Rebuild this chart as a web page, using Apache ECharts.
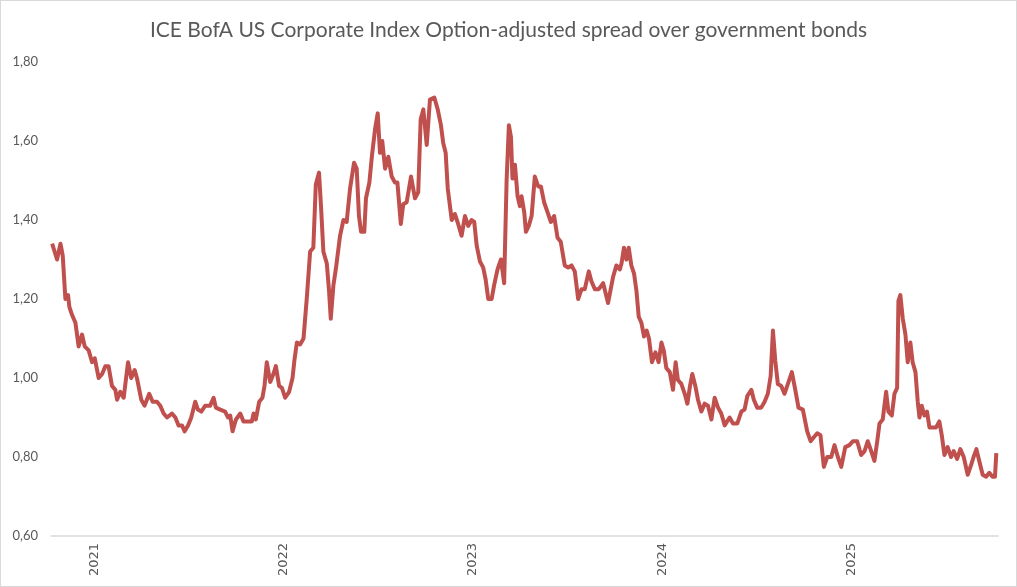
<!DOCTYPE html>
<html>
<head>
<meta charset="utf-8">
<script src="https://cdn.jsdelivr.net/npm/echarts@6/dist/echarts.min.js"></script>
<style>
  html, body { margin: 0; padding: 0; background: #fff; }
  #chart { width: 1017px; height: 587px; box-sizing: border-box; border: 1px solid #d9d9d9; }
</style>
</head>
<body>
<div id="chart"></div>
<script>
// dates as decimal years
const dates = [
  2020.777, 2020.803, 2020.821, 2020.833, 2020.847, 2020.861, 2020.868, 2020.882, 2020.900, 2020.917,
  2020.935, 2020.949, 2020.970, 2020.988, 2021.002, 2021.023, 2021.041, 2021.058, 2021.075, 2021.093,
  2021.111, 2021.120, 2021.137, 2021.155, 2021.178, 2021.195, 2021.213, 2021.225, 2021.248, 2021.265,
  2021.290, 2021.308, 2021.331, 2021.348, 2021.366, 2021.384, 2021.410, 2021.428, 2021.445, 2021.463,
  2021.477, 2021.495, 2021.512, 2021.533, 2021.547, 2021.565, 2021.586, 2021.612, 2021.630, 2021.642,
  2021.665, 2021.691, 2021.706, 2021.718, 2021.730, 2021.748, 2021.771, 2021.788, 2021.832, 2021.841,
  2021.853, 2021.871, 2021.888, 2021.899, 2021.911, 2021.929, 2021.946, 2021.959, 2021.976, 2021.991,
  2022.008, 2022.029, 2022.047, 2022.057, 2022.070, 2022.087, 2022.105, 2022.122, 2022.140, 2022.157,
  2022.170, 2022.187, 2022.198, 2022.210, 2022.228, 2022.240, 2022.249, 2022.263, 2022.277, 2022.298,
  2022.316, 2022.333, 2022.351, 2022.372, 2022.386, 2022.398, 2022.409, 2022.426, 2022.435, 2022.453,
  2022.466, 2022.483, 2022.497, 2022.509, 2022.521, 2022.536, 2022.553, 2022.571, 2022.588, 2022.601,
  2022.619, 2022.632, 2022.650, 2022.673, 2022.694, 2022.711, 2022.724, 2022.738, 2022.756, 2022.761,
  2022.773, 2022.796, 2022.814, 2022.831, 2022.843, 2022.856, 2022.867, 2022.888, 2022.905, 2022.922,
  2022.940, 2022.958, 2022.975, 2022.993, 2023.007, 2023.020, 2023.037, 2023.054, 2023.067, 2023.081,
  2023.099, 2023.112, 2023.130, 2023.148, 2023.165, 2023.178, 2023.190, 2023.201, 2023.209, 2023.222,
  2023.236, 2023.248, 2023.257, 2023.271, 2023.280, 2023.295, 2023.310, 2023.327, 2023.345, 2023.359,
  2023.376, 2023.394, 2023.412, 2023.429, 2023.447, 2023.464, 2023.485, 2023.503, 2023.521, 2023.538,
  2023.556, 2023.574, 2023.591, 2023.612, 2023.626, 2023.644, 2023.665, 2023.688, 2023.714, 2023.740,
  2023.758, 2023.776, 2023.785, 2023.798, 2023.811, 2023.823, 2023.837, 2023.851, 2023.864, 2023.876,
  2023.890, 2023.904, 2023.918, 2023.930, 2023.946, 2023.964, 2023.981, 2023.996, 2024.008, 2024.022,
  2024.040, 2024.057, 2024.071, 2024.083, 2024.101, 2024.119, 2024.133, 2024.147, 2024.159, 2024.175,
  2024.189, 2024.207, 2024.224, 2024.242, 2024.260, 2024.277, 2024.295, 2024.312, 2024.330, 2024.356,
  2024.374, 2024.397, 2024.418, 2024.435, 2024.450, 2024.471, 2024.484, 2024.502, 2024.523, 2024.541,
  2024.558, 2024.573, 2024.585, 2024.597, 2024.611, 2024.629, 2024.646, 2024.664, 2024.685, 2024.703,
  2024.720, 2024.743, 2024.752, 2024.766, 2024.784, 2024.801, 2024.819, 2024.836, 2024.854, 2024.872,
  2024.893, 2024.910, 2024.928, 2024.946, 2024.967, 2024.989, 2025.007, 2025.030, 2025.051, 2025.069,
  2025.086, 2025.104, 2025.121, 2025.136, 2025.148, 2025.165, 2025.183, 2025.195, 2025.213, 2025.227,
  2025.241, 2025.248, 2025.258, 2025.271, 2025.285, 2025.297, 2025.311, 2025.323, 2025.338, 2025.350,
  2025.359, 2025.371, 2025.385, 2025.399, 2025.412, 2025.447, 2025.464, 2025.477, 2025.491, 2025.508,
  2025.526, 2025.540, 2025.558, 2025.575, 2025.593, 2025.614, 2025.632, 2025.645, 2025.660, 2025.675,
  2025.693, 2025.711, 2025.728, 2025.745, 2025.758, 2025.765
];

// option-adjusted spread, in percentage points
const spread = [
  1.34, 1.30, 1.34, 1.31, 1.20, 1.21, 1.18, 1.16, 1.14, 1.08,
  1.11, 1.08, 1.07, 1.04, 1.05, 1.00, 1.01, 1.03, 1.03, 0.98,
  0.97, 0.945, 0.965, 0.95, 1.04, 1.00, 1.02, 1.00, 0.945, 0.93,
  0.96, 0.94, 0.94, 0.93, 0.91, 0.90, 0.91, 0.90, 0.88, 0.88,
  0.865, 0.88, 0.90, 0.94, 0.92, 0.915, 0.93, 0.93, 0.95, 0.925,
  0.92, 0.915, 0.90, 0.905, 0.865, 0.895, 0.91, 0.89, 0.89, 0.91,
  0.895, 0.94, 0.95, 0.98, 1.04, 0.99, 1.01, 1.03, 0.98, 0.975,
  0.95, 0.965, 1.00, 1.045, 1.09, 1.085, 1.10, 1.20, 1.32, 1.33,
  1.49, 1.52, 1.43, 1.32, 1.29, 1.22, 1.15, 1.235, 1.28, 1.36,
  1.40, 1.395, 1.48, 1.545, 1.53, 1.41, 1.37, 1.37, 1.455, 1.495,
  1.56, 1.63, 1.67, 1.57, 1.60, 1.53, 1.56, 1.51, 1.495, 1.495,
  1.39, 1.44, 1.445, 1.51, 1.455, 1.47, 1.655, 1.68, 1.59, 1.585,
  1.705, 1.71, 1.68, 1.64, 1.595, 1.57, 1.48, 1.40, 1.415, 1.39,
  1.36, 1.41, 1.385, 1.40, 1.395, 1.335, 1.295, 1.28, 1.25, 1.20,
  1.20, 1.235, 1.275, 1.30, 1.24, 1.50, 1.64, 1.61, 1.505, 1.54,
  1.46, 1.435, 1.46, 1.42, 1.37, 1.385, 1.41, 1.51, 1.485, 1.485,
  1.445, 1.42, 1.395, 1.41, 1.355, 1.345, 1.285, 1.28, 1.285, 1.27,
  1.20, 1.225, 1.225, 1.27, 1.245, 1.225, 1.225, 1.24, 1.19, 1.255,
  1.285, 1.275, 1.29, 1.33, 1.30, 1.33, 1.285, 1.265, 1.22, 1.155,
  1.14, 1.105, 1.12, 1.10, 1.04, 1.065, 1.04, 1.09, 1.07, 1.025,
  1.015, 0.97, 1.04, 0.995, 0.985, 0.96, 0.935, 0.98, 1.01, 0.98,
  0.945, 0.915, 0.935, 0.93, 0.895, 0.95, 0.925, 0.91, 0.88, 0.90,
  0.885, 0.885, 0.915, 0.92, 0.955, 0.97, 0.945, 0.925, 0.925, 0.94,
  0.96, 1.005, 1.12, 1.045, 0.985, 0.98, 0.96, 0.985, 1.015, 0.97,
  0.925, 0.92, 0.915, 0.865, 0.84, 0.85, 0.86, 0.855, 0.775, 0.80,
  0.80, 0.83, 0.80, 0.775, 0.825, 0.83, 0.84, 0.84, 0.805, 0.815,
  0.84, 0.815, 0.79, 0.84, 0.885, 0.895, 0.965, 0.915, 0.905, 0.96,
  0.975, 1.195, 1.21, 1.15, 1.11, 1.04, 1.09, 1.04, 1.015, 0.94,
  0.90, 0.93, 0.905, 0.915, 0.875, 0.875, 0.89, 0.855, 0.805, 0.825,
  0.80, 0.815, 0.795, 0.82, 0.80, 0.755, 0.78, 0.80, 0.82, 0.79,
  0.755, 0.75, 0.76, 0.75, 0.75, 0.81
];

const yearTicks = [2021, 2022, 2023, 2024, 2025];

const chart = echarts.init(document.getElementById('chart'));

const seriesData = dates.map((d, i) => [d, spread[i]]);

const option = {
  animation: false,
  title: {
    text: 'ICE BofA US Corporate Index Option-adjusted spread over government bonds',
    left: 'center',
    top: 14,
    textStyle: {
      fontFamily: 'Lato',
      fontSize: 21,
      fontWeight: 'normal',
      color: '#595959'
    }
  },
  grid: {
    left: 50,
    right: 18,
    top: 61,
    bottom: 50
  },
  xAxis: {
    type: 'value',
    min: 2020.771,
    max: 2025.774,
    axisLine: {
      lineStyle: { color: '#d9d9d9', width: 1.5 }
    },
    axisTick: { show: false },
    splitLine: { show: false },
    axisLabel: {
      customValues: yearTicks,
      rotate: 90,
      margin: 7,
      color: '#595959',
      fontFamily: 'DejaVu Sans',
      fontSize: 13,
      formatter: (v) => String(Math.round(v))
    }
  },
  yAxis: {
    type: 'value',
    min: 0.6,
    max: 1.8,
    interval: 0.2,
    axisLine: { show: false },
    axisTick: { show: false },
    splitLine: { show: false },
    axisLabel: {
      color: '#595959',
      fontFamily: 'Lato',
      fontSize: 13,
      margin: 13,
      formatter: (v) => v.toFixed(2).replace('.', ',')
    }
  },
  series: [{
    type: 'line',
    data: seriesData,
    showSymbol: false,
    smooth: false,
    lineStyle: {
      color: '#C0504D',
      width: 4,
      join: 'round'
    }
  }]
};

chart.setOption(option);
</script>
</body>
</html>
